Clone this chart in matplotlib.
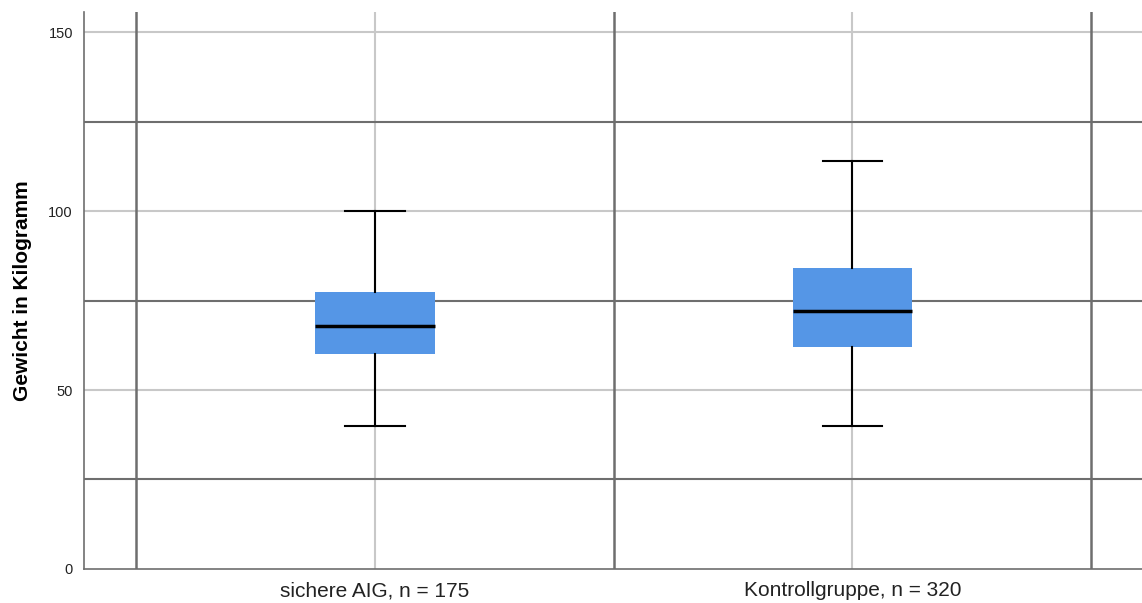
import matplotlib
matplotlib.use("Agg")
import matplotlib.pyplot as plt

plt.rcParams["font.family"] = ["Liberation Sans", "DejaVu Sans"]

# Boxplot statistics (kg)
groups = ["sichere AIG, n = 175", "Kontrollgruppe, n = 320"]
whisker_low = [40, 40]
q1 = [60, 62]
median = [68, 72]
q3 = [77.5, 84]
whisker_high = [100, 114]

y_ticks = [0, 50, 100, 150]
dark_hlines = [25, 75, 125]

BOX_COLOR = "#5596e6"
DARK = "#6e6e6e"
LIGHT = "#c8c8c8"

fig = plt.figure(figsize=(11.42, 6.03), dpi=100)
ax = fig.add_axes([0.0736, 0.0564, 0.93, 0.9237])

positions = list(range(len(groups)))

# background grid (SPSS style)
for p in positions:
    ax.axvline(p, color=LIGHT, lw=1.5, zorder=0)
for y in y_ticks[1:]:
    ax.axhline(y, color=LIGHT, lw=1.5, zorder=0)
for x in [p - 0.5 for p in positions] + [positions[-1] + 0.5]:
    ax.axvline(x, color=DARK, lw=1.8, zorder=0.5)
for y in dark_hlines:
    ax.axhline(y, color=DARK, lw=1.5, zorder=0.5)

stats = []
for i, g in enumerate(groups):
    stats.append(dict(label=g, whislo=whisker_low[i], q1=q1[i], med=median[i],
                      q3=q3[i], whishi=whisker_high[i], fliers=[]))

ax.bxp(stats, positions=positions, widths=0.25, patch_artist=True, showfliers=False,
       boxprops=dict(facecolor=BOX_COLOR, edgecolor=BOX_COLOR, linewidth=0),
       medianprops=dict(color="black", linewidth=2.5),
       whiskerprops=dict(color="black", linewidth=1.5),
       capprops=dict(color="black", linewidth=1.5),
       capwidths=0.125, zorder=2)

ax.set_xlim(-0.609, 1.615)
ax.set_ylim(0, 155.6)
ax.set_yticks(y_ticks)
ax.set_xticks(positions)
ax.set_xticklabels(groups, fontsize=15, color="#222222")
ax.tick_params(axis="y", labelsize=10.5, length=0, pad=8, labelcolor="#222222")
ax.tick_params(axis="x", length=0, pad=9)
ax.set_ylabel("Gewicht in Kilogramm", fontsize=15, fontweight="bold", labelpad=12)

for s in ["top", "right"]:
    ax.spines[s].set_visible(False)
for s in ["left", "bottom"]:
    ax.spines[s].set_color(DARK)
    ax.spines[s].set_linewidth(1.2)

fig.savefig("out.png", dpi=100)
